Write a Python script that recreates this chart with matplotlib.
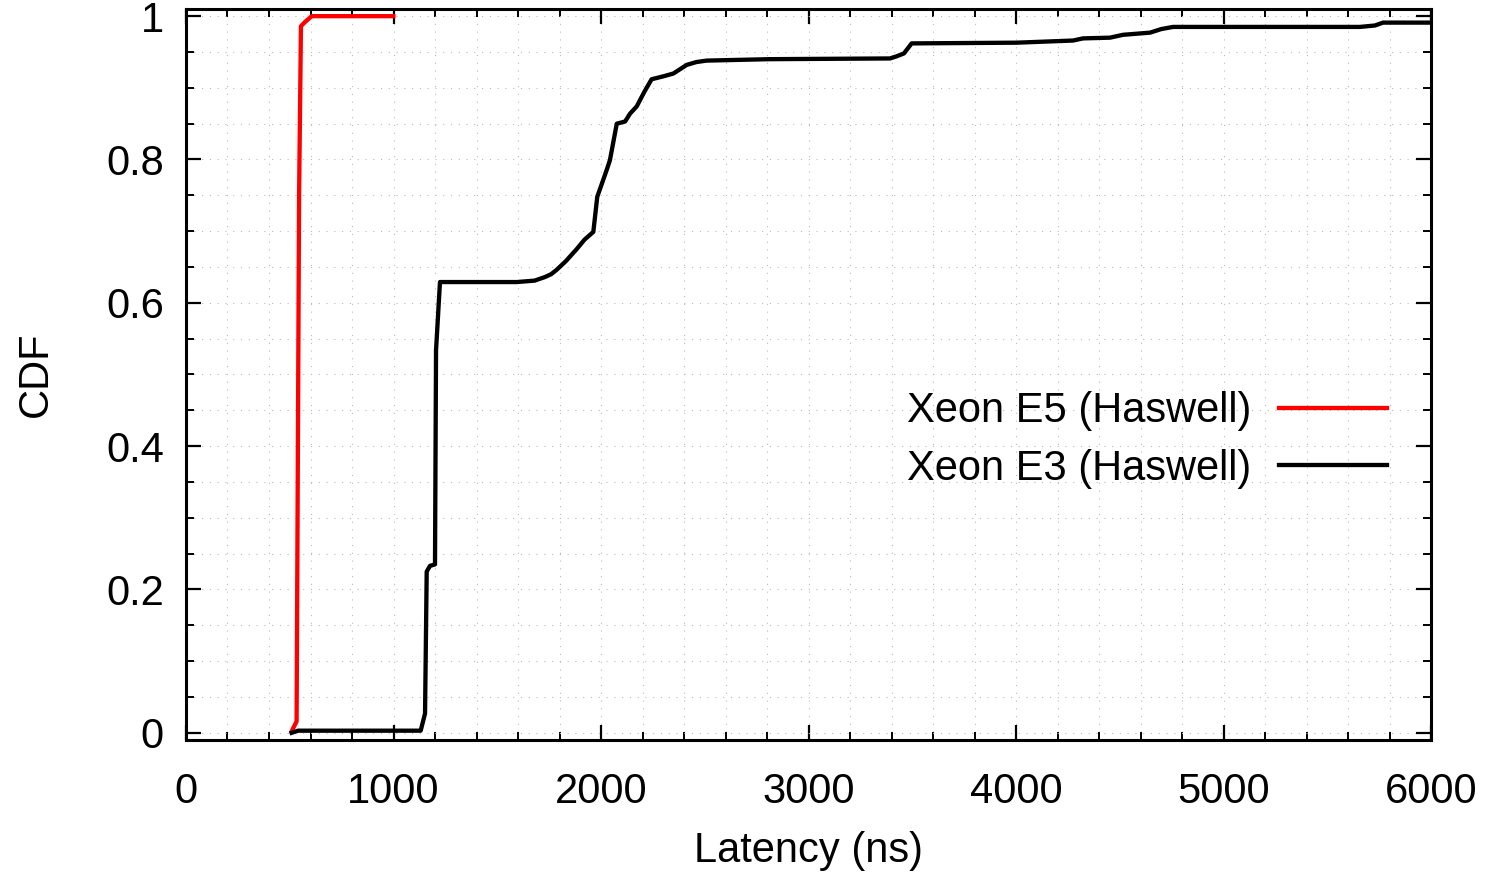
import matplotlib.pyplot as plt
from matplotlib.ticker import MultipleLocator

plt.rcParams['font.family'] = ['Liberation Sans', 'DejaVu Sans']

# Xeon E5 (Haswell) CDF
e5_lat = [509, 533, 545, 554, 574, 606, 999]
e5_cdf = [0.002, 0.016, 0.75, 0.986, 0.992, 1.0, 1.0]

# Xeon E3 (Haswell) CDF
e3_lat = [509, 540, 1131, 1152, 1160, 1176, 1200, 1205, 1224, 1594, 1680, 1730, 1760,
          1786, 1830, 1883, 1920, 1963, 1982, 2027, 2043, 2076, 2116, 2140, 2172, 2210,
          2244, 2300, 2349, 2413, 2460, 2509, 2814, 3393, 3425, 3460, 3497, 4003, 4275,
          4323, 4453, 4516, 4646, 4700, 4757, 5658, 5730, 5769, 6000]
e3_cdf = [0.0, 0.003, 0.003, 0.027, 0.225, 0.233, 0.235, 0.534, 0.629, 0.629, 0.631, 0.636,
          0.640, 0.646, 0.658, 0.675, 0.688, 0.699, 0.748, 0.785, 0.799, 0.850, 0.853, 0.864,
          0.874, 0.895, 0.912, 0.916, 0.920, 0.932, 0.936, 0.938, 0.940, 0.941, 0.944, 0.948,
          0.962, 0.963, 0.966, 0.969, 0.970, 0.974, 0.977, 0.982, 0.985, 0.985, 0.987, 0.991,
          0.991]

x_ticks = [0, 1000, 2000, 3000, 4000, 5000, 6000]
y_ticks = [0, 0.2, 0.4, 0.6, 0.8, 1]
y_tick_labels = ['0', '0.2', '0.4', '0.6', '0.8', '1']

fig = plt.figure(figsize=(14.86, 8.72), dpi=100)
ax = fig.add_axes([186 / 1486, 132 / 872, 1245 / 1486, 731 / 872])

ax.plot(e5_lat, e5_cdf, color='#ff0000', linewidth=3.1, label='Xeon E5 (Haswell)')
ax.plot(e3_lat, e3_cdf, color='black', linewidth=3.1, label='Xeon E3 (Haswell)')

ax.set_xlim(0, 6000)
ax.set_ylim(-0.01, 1.01)
ax.set_xticks(x_ticks)
ax.set_xticklabels([str(t) for t in x_ticks])
ax.set_yticks(y_ticks)
ax.set_yticklabels(y_tick_labels)
ax.xaxis.set_minor_locator(MultipleLocator(200))
ax.yaxis.set_minor_locator(MultipleLocator(0.05))

ax.tick_params(which='both', direction='in', top=True, right=True, labelsize=30)
ax.tick_params(axis='x', which='major', length=11, width=1.6, pad=23)
ax.tick_params(axis='y', which='major', length=11, width=1.6, pad=16)
ax.tick_params(which='minor', length=6, width=1.4)

ax.grid(True, which='both', color='#bbbbbb', linewidth=0.8, linestyle=(0, (1, 6)))
ax.set_axisbelow(True)
for s in ax.spines.values():
    s.set_linewidth(2.2)

ax.set_xlabel('Latency (ns)', fontsize=30, labelpad=14)
ax.set_ylabel('CDF', fontsize=30, labelpad=36)

ax.legend(loc='center right', bbox_to_anchor=(1387 / 1486, 1 - 440 / 872),
          bbox_transform=fig.transFigure, frameon=False, markerfirst=False,
          fontsize=30, handlelength=2.6, handletextpad=0.65, labelspacing=0.42,
          borderpad=0, borderaxespad=0)

fig.savefig('out.png', dpi=100)
